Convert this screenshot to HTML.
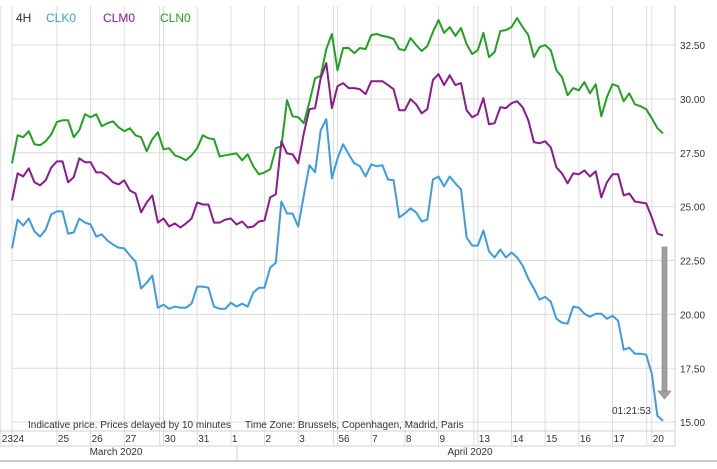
<!DOCTYPE html>
<html><head><meta charset="utf-8">
<style>
html,body{margin:0;padding:0;background:#fff;width:717px;height:469px;overflow:hidden;}
svg{display:block;font-family:"Liberation Sans",Arial,sans-serif;}
</style></head>
<body>
<svg id="chart" width="717" height="469" viewBox="0 0 717 469" xmlns="http://www.w3.org/2000/svg">
<g id="grid"></g>
<g id="series"></g>
<g id="axis"></g>
<text x="16" y="22" font-size="12" fill="#333">4H</text>
<text x="46" y="22" font-size="12" fill="#3d9be0">CLK0</text>
<text x="103" y="22" font-size="12" fill="#8b1a8b">CLM0</text>
<text x="160" y="22" font-size="12" fill="#22a022">CLN0</text>
<text x="28" y="428" font-size="10" fill="#333">Indicative price. Prices delayed by 10 minutes</text>
<text x="245" y="428" font-size="10" fill="#333">Time Zone: Brussels, Copenhagen, Madrid, Paris</text>
<text x="612" y="414" font-size="10" fill="#333">01:21:53</text>
<g>
<rect x="662" y="247" width="5" height="144" fill="#a0a0a0" stroke="#808080" stroke-width="0.6"/>
<polygon points="658,391 671,391 664.5,399" fill="#a0a0a0" stroke="#808080" stroke-width="0.6"/>
</g>
</svg>
<script>
const yTicks = [15, 17.5, 20, 22.5, 25, 27.5, 30, 32.5];
const yTickLabels = ["15.00","17.50","20.00","22.50","25.00","27.50","30.00","32.50"];
const dateLabels = ["23","24","25","26","27","30","31","1","2","3","56","7","8","9","13","14","15","16","17","20"];
const dateIndex = [-2,0,8,14,20,27,33,39,45,51,58,64,70,76,83,89,95,101,107,114];
const extraGridIndex = [26.3,57.3,82.3,113.1];
const monthLabels = ["March 2020","April 2020"];
const clk0 = [23.06,24.40,24.12,24.45,23.85,23.61,23.94,24.64,24.78,24.78,23.75,23.80,24.45,24.26,24.17,23.61,23.71,23.43,23.24,23.10,23.06,22.73,22.45,21.20,21.47,21.80,20.31,20.45,20.26,20.36,20.31,20.31,20.50,21.29,21.29,21.24,20.36,20.26,20.26,20.54,20.36,20.50,20.36,21.01,21.24,21.24,22.17,22.40,25.24,24.68,24.68,24.08,25.52,26.92,26.59,28.54,29.06,26.31,27.24,27.89,27.43,27.01,
26.87,26.40,26.96,26.87,26.92,26.26,26.22,24.50,24.68,24.92,24.73,24.31,24.40,26.26,26.40,25.94,26.40,26.08,25.80,23.57,23.19,23.19,23.89,22.92,22.64,23.01,22.64,22.87,22.64,22.26,21.66,21.20,20.68,20.82,20.59,19.80,19.61,19.57,20.36,20.31,20.03,19.89,20.03,20.03,19.80,19.94,19.71,18.36,18.45,18.17,18.17,18.13,17.24,15.29,15.06];
const clm0 = [25.29,26.54,26.40,26.78,26.13,25.99,26.22,26.82,27.10,27.10,26.13,26.36,27.24,27.06,27.06,26.59,26.59,26.40,26.13,26.03,26.22,25.75,25.61,24.73,25.19,25.52,24.26,24.45,24.08,24.22,24.03,24.22,24.45,25.19,25.10,25.10,24.26,24.26,24.40,24.45,24.17,24.31,24.03,24.08,24.31,24.36,25.43,25.57,28.03,27.47,27.43,27.01,28.40,29.52,29.57,30.96,31.66,29.57,30.59,30.73,30.50,30.50,
30.45,30.22,30.82,30.82,30.82,30.64,30.45,29.47,29.47,29.99,29.75,29.33,29.52,30.87,31.15,30.64,31.10,30.64,30.73,29.47,29.15,29.29,30.03,28.82,28.87,29.61,29.57,29.80,29.89,29.61,29.01,27.99,27.94,28.03,27.75,26.82,26.54,26.08,26.54,26.50,26.68,26.40,26.64,25.43,26.13,26.50,26.50,25.52,25.61,25.24,25.19,25.15,24.50,23.75,23.66];
const cln0 = [27.01,28.31,28.22,28.50,27.89,27.85,28.03,28.36,28.92,29.01,29.01,28.22,28.54,29.29,29.15,29.29,28.73,28.87,28.96,28.68,28.50,28.64,28.31,28.22,27.57,28.13,28.45,27.66,27.71,27.38,27.29,27.15,27.38,27.71,28.31,28.17,28.13,27.33,27.38,27.43,27.47,27.15,27.43,26.87,26.50,26.59,26.73,27.71,27.80,29.94,29.19,29.15,28.87,29.85,30.96,31.06,32.31,33.01,31.33,32.36,32.36,32.12,
32.36,32.31,32.96,33.01,32.92,32.87,32.78,32.31,32.26,32.82,32.50,32.22,32.45,33.10,33.66,33.06,33.33,32.92,33.29,32.54,32.08,32.26,33.06,31.94,32.17,33.15,33.19,33.33,33.75,33.33,32.96,31.94,32.40,32.50,32.26,31.33,31.01,30.17,30.50,30.40,30.78,30.26,30.68,29.19,30.08,30.68,30.59,29.89,30.26,29.75,29.66,29.52,29.10,28.64,28.40];

const NS="http://www.w3.org/2000/svg";
const X0=12, X1=663, PR=675, PT=6, PB=431;
const N = Math.max(clk0.length, clm0.length, cln0.length);
function xS(i){ return X0 + i*(X1-X0)/(N-1); }
function yS(v){ return 45 + (32.5 - v)*21.55; }
function mk(tag, attrs, parent){
  const e=document.createElementNS(NS,tag);
  for(const k in attrs) e.setAttribute(k,attrs[k]);
  parent.appendChild(e); return e;
}
const grid=document.getElementById('grid'), axis=document.getElementById('axis'), ser=document.getElementById('series');
yTicks.forEach((t,i)=>{
  const y=yS(t);
  const l=mk('line',{x1:X0,x2:PR,y1:y,y2:y,stroke:'#dcdcdc','stroke-width':1},grid);
  
  
  const tx=mk('text',{x:680,y:y+4,'font-size':10,fill:'#333'},axis);
  tx.textContent=yTickLabels[i];
  
  
});
dateLabels.forEach((d,i)=>{
  const x=Math.max(0, xS(dateIndex[i]));
  const l=mk('line',{x1:x,x2:x,y1:PT,y2:446,stroke:'#dcdcdc','stroke-width':1},grid);
  
  
  const tx=mk('text',{x:x+1,y:442,'font-size':10,fill:'#333'},axis);
  tx.textContent=d;
  
  
});
extraGridIndex.forEach(g=>{
  const x=xS(g);
  const l=mk('line',{x1:x,x2:x,y1:PT,y2:446,stroke:'#dcdcdc','stroke-width':1},grid);
  
  
});
[[0,PR,431,431],[0,PR,446,446],[PR,PR,PT,446]].forEach(c=>{
  const l=mk('line',{x1:c[0],x2:c[1],y1:c[2],y2:c[3],stroke:'#d0d0d0','stroke-width':1},grid);
  
  
});
const bl=mk('line',{x1:0,x2:717,y1:461,y2:461,stroke:'#c8c8c8','stroke-width':2},grid);


const ms=237;
const sep=mk('line',{x1:ms,x2:ms,y1:446,y2:460,stroke:'#d0d0d0','stroke-width':1},grid);


const m1=mk('text',{x:116,y:455,'font-size':10,fill:'#333','text-anchor':'middle'},axis);
m1.textContent=monthLabels[0];


const m2=mk('text',{x:470,y:455,'font-size':10,fill:'#333','text-anchor':'middle'},axis);
m2.textContent=monthLabels[1];


function draw(arr,color,name){
  const d=arr.map((v,i)=>(i?'L':'M')+xS(i).toFixed(1)+','+yS(v).toFixed(1)).join(' ');
  const p=mk('path',{d:d,fill:'none',stroke:color,'stroke-width':2,'stroke-linejoin':'round'},ser);
  
  
}
draw(cln0,'#22a022','line-cln0');
draw(clm0,'#8b1a8b','line-clm0');
draw(clk0,'#3d9be0','line-clk0');
</script>
</body></html>
